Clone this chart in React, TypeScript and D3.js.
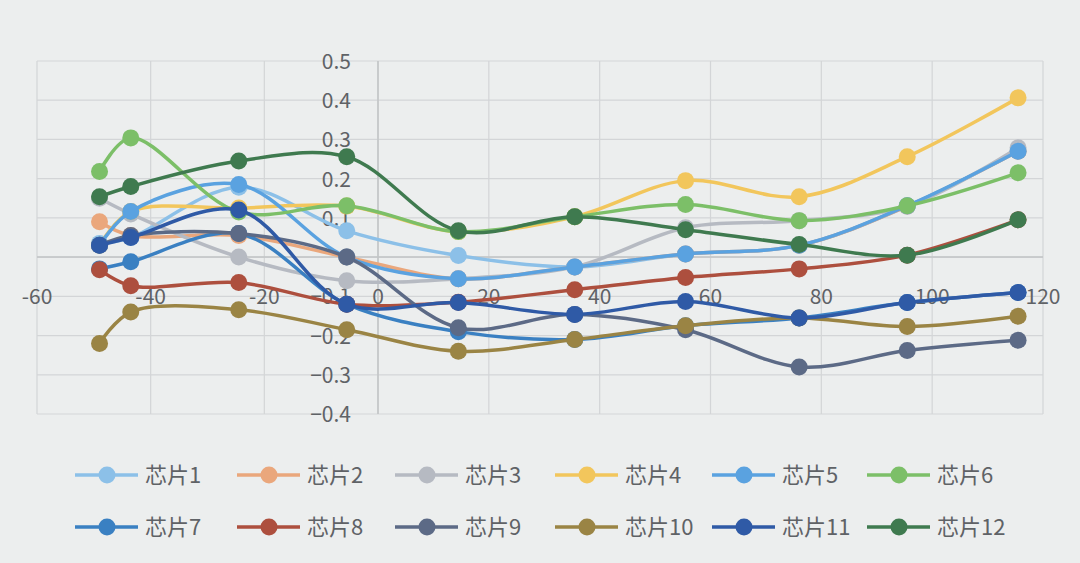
import React, { useEffect, useRef } from 'react';
import * as d3 from 'd3';

const xValues = [-49, -43.5, -24.5, -5.5, 14.5, 35.5, 55.5, 76, 95.5, 115.5];

const seriesNames = ['芯片1', '芯片2', '芯片3', '芯片4', '芯片5', '芯片6', '芯片7', '芯片8', '芯片9', '芯片10', '芯片11', '芯片12'];

const chip1 = [0.035, 0.05, 0.178, 0.067, 0.004, -0.025, 0.008, 0.03, 0.13, 0.27];
const chip2 = [0.09, 0.055, 0.055, 0.0, -0.055, -0.025, 0.008, 0.03, 0.13, 0.27];
const chip3 = [0.15, 0.11, 0.0, -0.06, -0.055, -0.025, 0.075, 0.093, 0.13, 0.279];
const chip4 = [0.03, 0.116, 0.125, 0.13, 0.065, 0.103, 0.195, 0.154, 0.256, 0.406];
const chip5 = [0.03, 0.116, 0.185, 0.0, -0.055, -0.025, 0.008, 0.03, 0.131, 0.27];
const chip6 = [0.218, 0.304, 0.115, 0.131, 0.065, 0.103, 0.134, 0.093, 0.131, 0.215];
const chip7 = [-0.03, -0.012, 0.06, -0.12, -0.19, -0.21, -0.175, -0.155, -0.116, -0.09];
const chip8 = [-0.032, -0.073, -0.065, -0.12, -0.115, -0.083, -0.052, -0.03, 0.005, 0.095];
const chip9 = [0.03, 0.055, 0.06, 0.0, -0.18, -0.146, -0.185, -0.28, -0.238, -0.212];
const chip10 = [-0.22, -0.14, -0.134, -0.185, -0.24, -0.21, -0.175, -0.155, -0.177, -0.151];
const chip11 = [0.03, 0.05, 0.12, -0.12, -0.116, -0.146, -0.113, -0.155, -0.116, -0.09];
const chip12 = [0.154, 0.18, 0.245, 0.256, 0.067, 0.103, 0.07, 0.032, 0.005, 0.095];

const seriesValues = [chip1, chip2, chip3, chip4, chip5, chip6, chip7, chip8, chip9, chip10, chip11, chip12];

const colors = ['#8cc0e8', '#eaa77c', '#b6bac2', '#f2c65c', '#5aa2e0', '#7cbf68',
  '#3a80c2', '#ad4f3e', '#5c6a86', '#9a8444', '#2f5aa6', '#3f7a4f'];

const xTicks = [-60, -40, -20, 0, 20, 40, 60, 80, 100, 120];
const yTicks = [-0.4, -0.3, -0.2, -0.1, 0, 0.1, 0.2, 0.3, 0.4, 0.5];

const W = 1080;
const H = 563;

export default function App() {
  const svgRef = useRef<SVGSVGElement>(null);

  useEffect(() => {
    if (!svgRef.current) return;
    const svg = d3.select(svgRef.current);
    svg.selectAll('*').remove();

    const left = 37, right = 1043, top = 61, bottom = 414;
    const font = '"Noto Sans CJK SC", "Noto Sans", sans-serif';
    const textColor = '#5f6266';

    // the photo is slightly skewed, so the zero line sits a bit right of centre
    const x = d3.scaleLinear().domain([-60, 0, 120]).range([left, 378, right]);
    const y = d3.scaleLinear().domain([-0.4, 0.5]).range([bottom, top]);

    svg.append('rect').attr('width', W).attr('height', H).attr('fill', '#eceeee');

    // grid
    const grid = svg.append('g');
    grid.selectAll('.gy').data(yTicks).enter().append('line')
      .attr('x1', left).attr('x2', right)
      .attr('y1', d => y(d)).attr('y2', d => y(d))
      .attr('stroke', '#d3d5d7').attr('stroke-width', 1.2);
    grid.selectAll('.gx').data(xTicks).enter().append('line')
      .attr('x1', d => x(d)).attr('x2', d => x(d))
      .attr('y1', top).attr('y2', bottom)
      .attr('stroke', '#d3d5d7').attr('stroke-width', 1.2);

    // axes through zero
    svg.append('line').attr('x1', left).attr('x2', right)
      .attr('y1', y(0)).attr('y2', y(0)).attr('stroke', '#c2c4c6').attr('stroke-width', 1.5);
    svg.append('line').attr('x1', x(0)).attr('x2', x(0))
      .attr('y1', top).attr('y2', bottom).attr('stroke', '#c2c4c6').attr('stroke-width', 1.5);

    // tick labels
    svg.selectAll('.yl').data(yTicks).enter().append('text')
      .attr('x', x(0) - 27).attr('y', d => y(d) + 8)
      .attr('text-anchor', 'end')
      .style('font-family', font).style('font-size', '21px').style('fill', textColor)
      .text(d => d3.format('.1f')(d).replace('-0.0', '0').replace(/^0\.0$/, '0'));
    svg.selectAll('.xl').data(xTicks).enter().append('text')
      .attr('x', d => x(d)).attr('y', y(0) + 47)
      .attr('text-anchor', 'middle')
      .style('font-family', font).style('font-size', '21px').style('fill', textColor)
      .text(d => String(d));

    // series
    const line = d3.line<number>()
      .x((_, i) => x(xValues[i]))
      .y(d => y(d))
      .curve(d3.curveCatmullRom.alpha(0.5));

    seriesValues.forEach((vals, s) => {
      const g = svg.append('g');
      g.append('path').datum(vals).attr('d', line)
        .attr('fill', 'none').attr('stroke', colors[s]).attr('stroke-width', 3.5)
        .attr('stroke-linejoin', 'round');
      g.selectAll('circle').data(vals).enter().append('circle')
        .attr('cx', (_, i) => x(xValues[i])).attr('cy', d => y(d))
        .attr('r', 8.5).attr('fill', colors[s]);
    });

    // legend
    const legX = [75, 237, 395, 555, 712, 867];
    const legY = [475, 527];
    seriesNames.forEach((name, i) => {
      const lx = legX[i % 6];
      const ly = legY[Math.floor(i / 6)];
      const g = svg.append('g');
      g.append('line').attr('x1', lx).attr('x2', lx + 63)
        .attr('y1', ly).attr('y2', ly).attr('stroke', colors[i]).attr('stroke-width', 3.5);
      g.append('circle').attr('cx', lx + 32).attr('cy', ly).attr('r', 8.5).attr('fill', colors[i]);
      g.append('text').attr('x', lx + 70).attr('y', ly + 8)
        .style('font-family', font).style('font-size', '22px').style('fill', textColor)
        .text(name);
    });
  }, []);

  return (
    <div style={{ position: 'absolute', left: 0, top: 0 }}>
      <svg ref={svgRef} width={W} height={H} style={{ display: 'block' }}></svg>
    </div>
  );
}
